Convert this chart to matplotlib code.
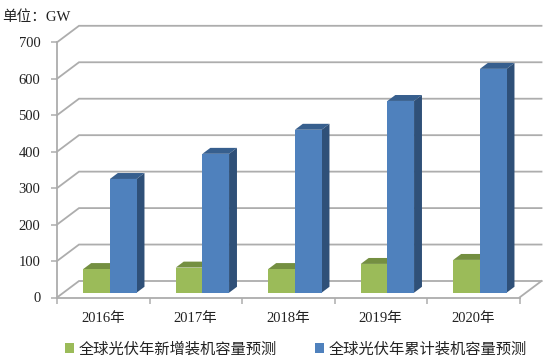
import matplotlib
matplotlib.use("Agg")
import matplotlib.pyplot as plt
from matplotlib.patches import Polygon, Patch

plt.rcParams['font.family'] = ['Liberation Serif', 'Noto Sans CJK SC', 'DejaVu Sans']

categories = ['2016年', '2017年', '2018年', '2019年', '2020年']
new_capacity = [65, 69, 65, 79, 90]
total_capacity = [312, 381, 447, 526, 614]
y_ticks = [0, 100, 200, 300, 400, 500, 600, 700]
series_names = ['全球光伏年新增装机容量预测', '全球光伏年累计装机容量预测']
unit_label = '单位：GW'

W, H = 547, 359
L, R, B, T = 57, 519.5, 297.5, 42.3
fig = plt.figure(figsize=(W / 100, H / 100), dpi=100)
ax = fig.add_axes([L / W, 1 - B / H, (R - L) / W, (B - T) / H])
ax.set_xlim(0, 5)
ax.set_ylim(0, 700)
ax.patch.set_visible(False)

# depth offset of the 3D box, in data units
DX = 22 / ((R - L) / 5)
DY = 16.5 / ((B - T) / 700)
GREY = '#adadad'
TXT = '#222222'


def pr(x, v, z=0.0):
    return (x + z * DX, v + z * DY)


# walls
for v in y_ticks:
    a, b, c = pr(0, v), pr(0, v, 1), pr(5, v, 1)
    ax.plot([a[0], b[0], c[0]], [a[1], b[1], c[1]], color=GREY, lw=1.3,
            clip_on=False, zorder=1, solid_joinstyle='miter')
a, b = pr(5, 0), pr(5, 0, 1)
ax.plot([a[0], b[0]], [a[1], b[1]], color=GREY, lw=1.3, clip_on=False, zorder=1)


def bar(x0, x1, v, front, top, side, zo):
    z0, z1 = 0.29, 0.65
    ax.add_patch(Polygon([pr(x0, v, z0), pr(x1, v, z0), pr(x1, v, z1), pr(x0, v, z1)],
                         fc=top, ec='none', clip_on=False, zorder=zo))
    ax.add_patch(Polygon([pr(x1, 0, z0), pr(x1, 0, z1), pr(x1, v, z1), pr(x1, v, z0)],
                         fc=side, ec='none', clip_on=False, zorder=zo))
    ax.add_patch(Polygon([pr(x0, 0, z0), pr(x1, 0, z0), pr(x1, v, z0), pr(x0, v, z0)],
                         fc=front, ec='none', clip_on=False, zorder=zo + 0.1))


BW = 0.288
for i in range(len(categories)):
    c = i + 0.503
    bar(c - BW, c, new_capacity[i], '#9bbb59', '#748f41', '#66803a', 3 + i)
    bar(c, c + BW, total_capacity[i], '#4f81bd', '#375f8e', '#2f5078', 3.5 + i)

for s in ['top', 'right']:
    ax.spines[s].set_visible(False)
for s in ['left', 'bottom']:
    ax.spines[s].set_color(GREY)
    ax.spines[s].set_linewidth(1.3)
    ax.spines[s].set_zorder(2)

ax.set_yticks(y_ticks)
ax.tick_params(axis='y', length=4, width=1.1, color=GREY, labelsize=10.5,
               labelcolor=TXT, pad=8)
ax.set_xticks(range(6))
ax.set_xticklabels([])
ax.set_xticks([i + 0.5 for i in range(5)], minor=True)
ax.set_xticklabels(categories, minor=True, fontsize=10.5, color=TXT)
ax.tick_params(axis='x', which='major', length=4, width=1.1, color=GREY)
ax.tick_params(axis='x', which='minor', length=0, pad=10.5)

fig.text(2 / W, 1 - 17.5 / H, unit_label, fontsize=10.5, color=TXT, va='center', ha='left')

handles = [Patch(fc='#9bbb59', ec='none'), Patch(fc='#4f81bd', ec='none')]
fig.legend(handles, series_names, loc='center left', bbox_to_anchor=(64.5 / W, 1 - 349.5 / H),
           ncol=2, frameon=False, fontsize=11, labelcolor=TXT, borderpad=0,
           borderaxespad=0, handlelength=0.62, handleheight=0.62, handletextpad=0.3,
           columnspacing=2.5)

fig.savefig('out.png', dpi=100)
